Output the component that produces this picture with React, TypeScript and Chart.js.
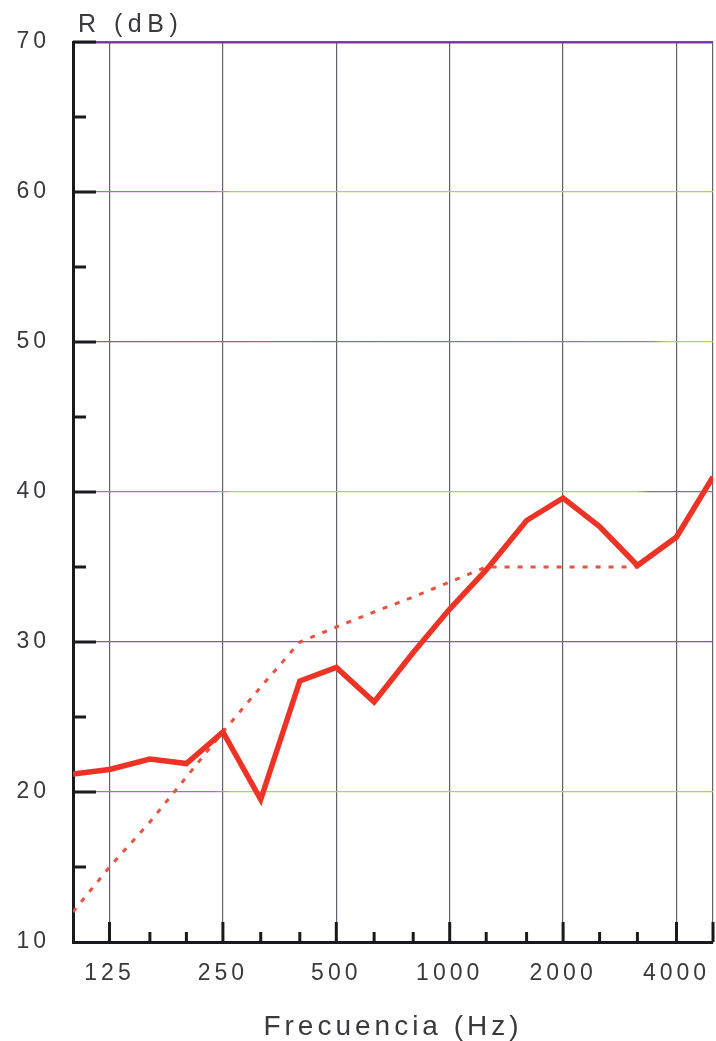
import React, { useEffect, useRef } from "react";
import { Chart, registerables } from "chart.js";

Chart.register(...registerables);

// ---- data ----
const FREQUENCIES = [100, 125, 160, 200, 250, 315, 400, 500, 630, 800, 1000, 1250, 1600, 2000, 2500, 3150, 4000, 5000];
const MEASURED_R = [21.2, 21.5, 22.2, 21.9, 24.0, 19.5, 27.4, 28.3, 26.0, 29.3, 32.2, 34.8, 38.1, 39.6, 37.7, 35.1, 37.0, 41.0];
const REFERENCE_FREQUENCIES = [100, 125, 160, 200, 250, 315, 400, 500, 630, 800, 1000, 1250, 1600, 2000, 2500, 3150];
const REFERENCE_R = [12, 15, 18, 21, 24, 27, 30, 31, 32, 33, 34, 35, 35, 35, 35, 35];
const X_TICK_LABELS = [125, 250, 500, 1000, 2000, 4000];
const Y_MIN = 10;
const Y_MAX = 70;
const Y_TITLE = "R (dB)";
const X_TITLE = "Frecuencia (Hz)";

// ---- styles ----
const FONT = "'Liberation Sans', Arial, sans-serif";
const TEXT_COLOR = "#3b3940";
const MAGENTA = "#c65ad8";
const GREEN = "#aed848";
const PURPLE = "#7f5aae";
const GRAY = "#7a7a84";
const GRID_STOPS: Record<number, [number, string][]> = {
  20: [[0, MAGENTA], [0.22, MAGENTA], [0.25, GREEN], [1, GREEN]],
  30: [[0, PURPLE], [1, PURPLE]],
  40: [[0, MAGENTA], [0.22, MAGENTA], [0.25, GREEN], [0.88, GREEN], [0.9, GRAY], [1, GRAY]],
  50: [[0, PURPLE], [0.9, MAGENTA], [0.93, GREEN], [1, GREEN]],
  60: [[0, MAGENTA], [0.22, MAGENTA], [0.25, GREEN], [1, GREEN]],
};

const axisTicksPlugin = {
  id: "axisTicks",
  beforeDraw(chart: any) {
    (chart.ctx as any).letterSpacing = "4px";
  },
  afterDraw(chart: any) {
    const ctx = chart.ctx;
    const area = chart.chartArea;
    const xs = chart.scales.x;
    const ys = chart.scales.y;
    ctx.save();
    ctx.strokeStyle = "#1a1a1e";
    ctx.lineWidth = 3;
    ctx.lineCap = "butt";
    // left ticks (inward)
    for (let v = Y_MIN + 5; v <= Y_MAX; v += 5) {
      const y = ys.getPixelForValue(v);
      const len = v % 10 === 0 ? 23 : 13;
      ctx.beginPath();
      ctx.moveTo(area.left, y);
      ctx.lineTo(area.left + len, y);
      ctx.stroke();
    }
    // bottom ticks (inward)
    FREQUENCIES.forEach((f) => {
      if (f === FREQUENCIES[0]) return;
      const x = xs.getPixelForValue(f);
      const octave = X_TICK_LABELS.includes(f) || f === FREQUENCIES[FREQUENCIES.length - 1];
      const len = octave ? 20 : 10;
      ctx.beginPath();
      ctx.moveTo(x, area.bottom);
      ctx.lineTo(x, area.bottom - len);
      ctx.stroke();
    });
    // titles
    ctx.fillStyle = TEXT_COLOR;
    ctx.textBaseline = "alphabetic";
    (ctx as any).letterSpacing = "5.5px";
    ctx.font = `25px ${FONT}`;
    ctx.textAlign = "left";
    ctx.fillText(Y_TITLE, 78, 32);
    (ctx as any).letterSpacing = "4px";
    ctx.font = `28px ${FONT}`;
    ctx.textAlign = "center";
    ctx.fillText(X_TITLE, (area.left + area.right) / 2, 1035);
    ctx.restore();
    (ctx as any).letterSpacing = "0px";
  },
};

export default function App() {
  const ref = useRef<HTMLCanvasElement | null>(null);

  useEffect(() => {
    if (!ref.current) return;
    const chart = new Chart(ref.current, {
      type: "line",
      data: {
        datasets: [
          {
            label: "R",
            data: FREQUENCIES.map((f, i) => ({ x: f, y: MEASURED_R[i] })),
            borderColor: "#ec3325",
            borderWidth: 5.5,
            pointRadius: 0,
            tension: 0,
            borderJoinStyle: "miter",
          },
          {
            label: "Referencia",
            data: REFERENCE_FREQUENCIES.map((f, i) => ({ x: f, y: REFERENCE_R[i] })),
            borderColor: "#e8523e",
            borderWidth: 3,
            borderDash: [5, 8],
            pointRadius: 0,
            tension: 0,
          },
        ],
      },
      options: {
        animation: false,
        responsive: true,
        maintainAspectRatio: false,
        layout: { padding: { top: 42, right: 3, left: 0, bottom: 0 } },
        plugins: {
          legend: { display: false },
          tooltip: { enabled: false },
        },
        scales: {
          x: {
            type: "logarithmic",
            min: FREQUENCIES[0],
            max: FREQUENCIES[FREQUENCIES.length - 1],
            afterBuildTicks: (scale: any) => {
              scale.ticks = FREQUENCIES.map((v) => ({ value: v }));
            },
            afterFit: (scale: any) => {
              scale.height = 99;
              scale.paddingLeft = 0;
              scale.paddingRight = 0;
            },
            border: { color: "#1a1a1e", width: 3 },
            grid: {
              drawTicks: false,
              lineWidth: 1.2,
              color: (c: any) => {
                const v = c.tick?.value;
                if (X_TICK_LABELS.includes(v) || v === FREQUENCIES[FREQUENCIES.length - 1]) return "#62626a";
                return "rgba(0,0,0,0)";
              },
            },
            ticks: {
              autoSkip: false,
              maxRotation: 0,
              padding: 18,
              color: TEXT_COLOR,
              font: { family: FONT, size: 23 },
              callback: (value: any) => (X_TICK_LABELS.includes(Number(value)) ? String(value) : ""),
            },
          },
          y: {
            type: "linear",
            min: Y_MIN,
            max: Y_MAX,
            afterFit: (scale: any) => {
              scale.width = 73;
              scale.paddingTop = 0;
              scale.paddingBottom = 0;
            },
            border: { color: "#1a1a1e", width: 3 },
            grid: {
              drawTicks: false,
              lineWidth: (c: any) => (c.tick?.value === Y_MAX ? 2.5 : 1.3),
              color: (c: any) => {
                const v = c.tick?.value;
                if (v === Y_MAX) return "#7a3aa8";
                const stops = GRID_STOPS[v];
                if (!stops) return "rgba(0,0,0,0)";
                const area = c.chart.chartArea;
                if (!area) return PURPLE;
                const g = c.chart.ctx.createLinearGradient(area.left, 0, area.right, 0);
                stops.forEach(([o, col]) => g.addColorStop(o, col));
                return g;
              },
            },
            ticks: {
              stepSize: 5,
              padding: 23,
              color: TEXT_COLOR,
              font: { family: FONT, size: 23 },
              callback: (value: any) => (Number(value) % 10 === 0 ? String(value) : ""),
            },
          },
        },
      },
      plugins: [axisTicksPlugin],
    } as any);
    return () => chart.destroy();
  }, []);

  return (
    <div style={{ position: "fixed", left: 0, top: 0, width: 716, height: 1041, background: "#fff" }}>
      <canvas ref={ref} />
    </div>
  );
}
